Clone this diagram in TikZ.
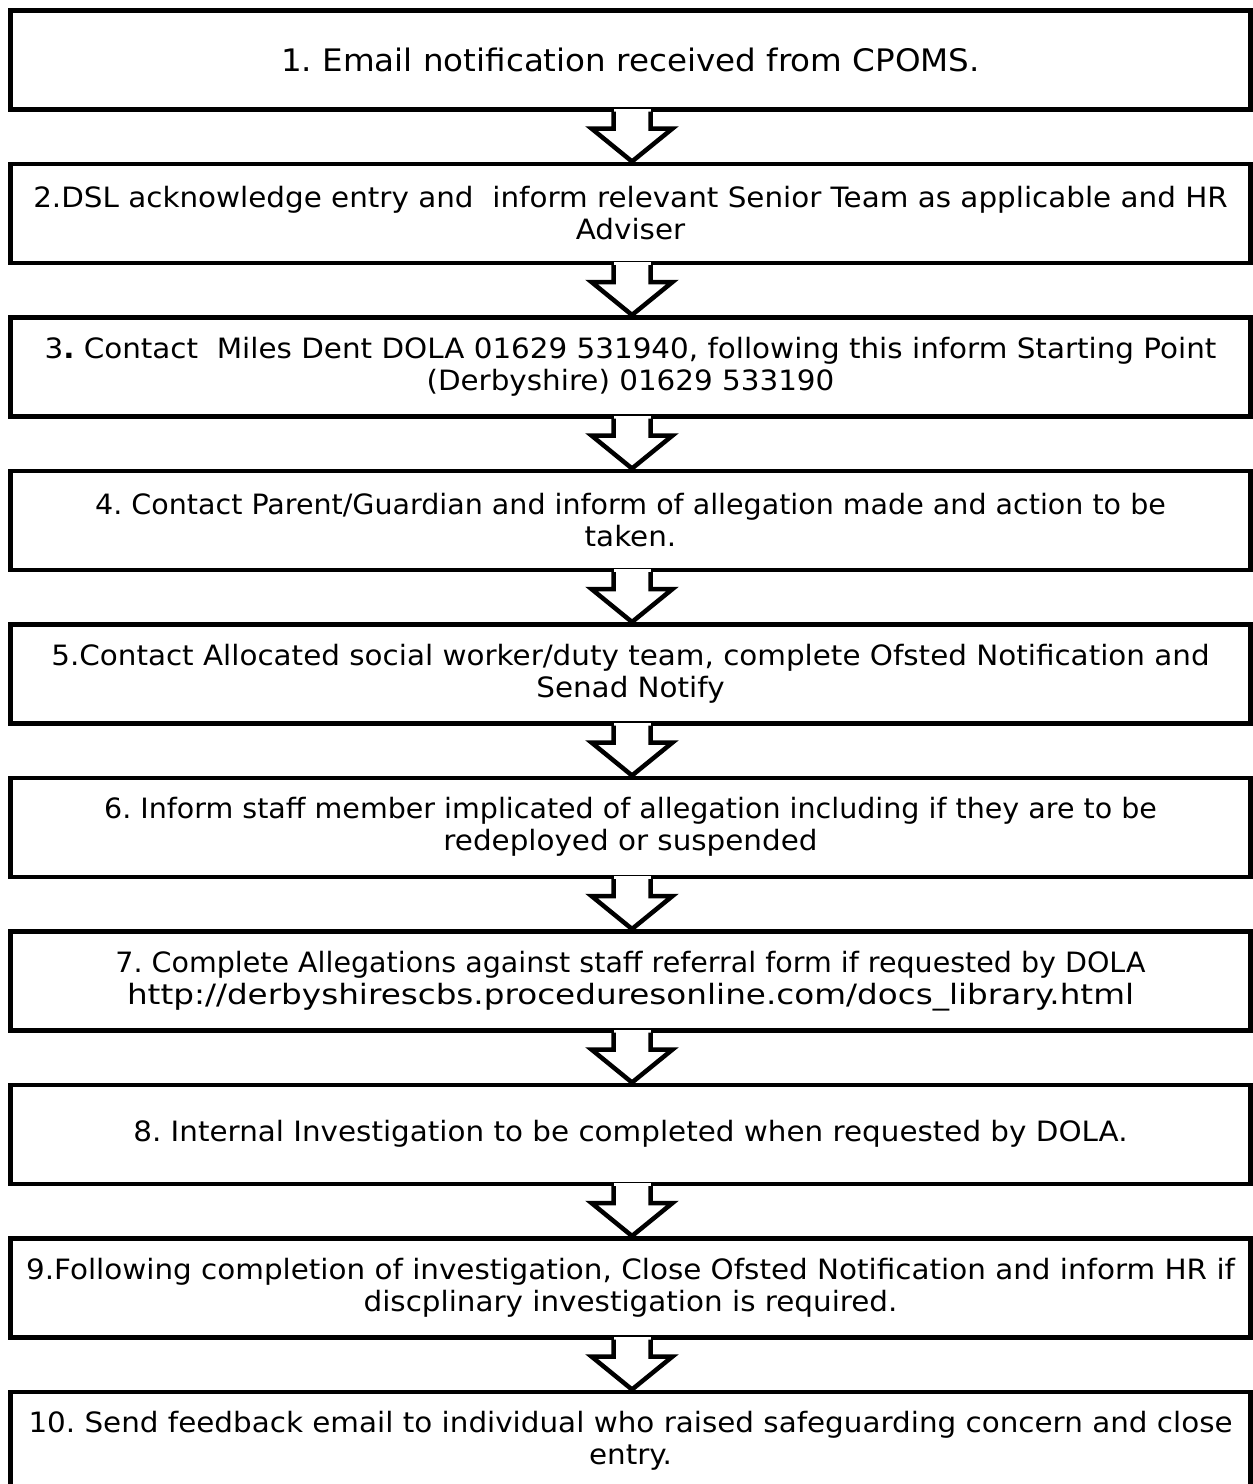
\documentclass[tikz,border=0pt]{standalone}
\usepackage{fontspec}
\setmainfont[FakeStretch=1.05]{DejaVu Sans}
\usetikzlibrary{calc}
\frenchspacing
\tikzset{
  stepbox/.style={draw, line width=4.5pt, minimum width=1240pt, minimum height=99pt,
    inner sep=0pt, align=center, anchor=north, font=\fontsize{28}{32}\selectfont},
  arrowline/.style={line width=4.5pt, line join=miter},
}
\newcommand\flowarrow[2]{%
  \fill[white] ($(#1.south)+(-17,-3)$) rectangle ($(#1.south)+(20,17)$);
  \draw[arrowline] ($(#1.south)+(-17,0)$) -- ++(0,17) -- ++(-22,0)
    -- ($(#2.north)+(1.5,0)$) -- ($(#1.south)+(42,17)$) -- ++(-22,0) -- ++(0,-17);
}
\begin{document}
\begin{tikzpicture}[x=1pt,y=-1pt]
\clip (0,0) rectangle (1253,1484);
\fill[white] (0,0) rectangle (1253,1484);
\node[stepbox, font=\fontsize{31}{32}\selectfont] (b1) at (630.5,8) {1. Email notification received from CPOMS.};
\node[stepbox] (b2) at (630.5,161.5) {2.DSL acknowledge entry and\ \ inform relevant Senior Team as applicable and HR\\Adviser};
\node[stepbox] (b3) at (630.5,315) {3\textbf{.} Contact\ \ Miles Dent DOLA 01629 531940, following this inform Starting Point\\(Derbyshire) 01629 533190};
\node[stepbox] (b4) at (630.5,468.5) {\scalebox{0.97}[1]{4. Contact Parent/Guardian and inform of allegation made and action to be}\\taken.};
\node[stepbox] (b5) at (630.5,622) {5.Contact Allocated social worker/duty team, complete Ofsted Notification and\\Senad Notify};
\node[stepbox] (b6) at (630.5,775.5) {\scalebox{0.97}[1]{6. Inform staff member implicated of allegation including if they are to be}\\redeployed or suspended};
\node[stepbox] (b7) at (630.5,929) {\scalebox{0.97}[1]{7. Complete Allegations against staff referral form if requested by DOLA}\\\scalebox{1.11}[1]{http://derbyshirescbs.proceduresonline.com/docs\_library.html}};
\node[stepbox] (b8) at (630.5,1082.5) {8. Internal Investigation to be completed when requested by DOLA.};
\node[stepbox] (b9) at (630.5,1236) {9.Following completion of investigation, Close Ofsted Notification and inform HR if\\discplinary investigation is required.};
\node[stepbox] (b10) at (630.5,1389.5) {10. Send feedback email to individual who raised safeguarding concern and close\\entry.};
\flowarrow{b1}{b2}
\flowarrow{b2}{b3}
\flowarrow{b3}{b4}
\flowarrow{b4}{b5}
\flowarrow{b5}{b6}
\flowarrow{b6}{b7}
\flowarrow{b7}{b8}
\flowarrow{b8}{b9}
\flowarrow{b9}{b10}
\end{tikzpicture}
\end{document}
